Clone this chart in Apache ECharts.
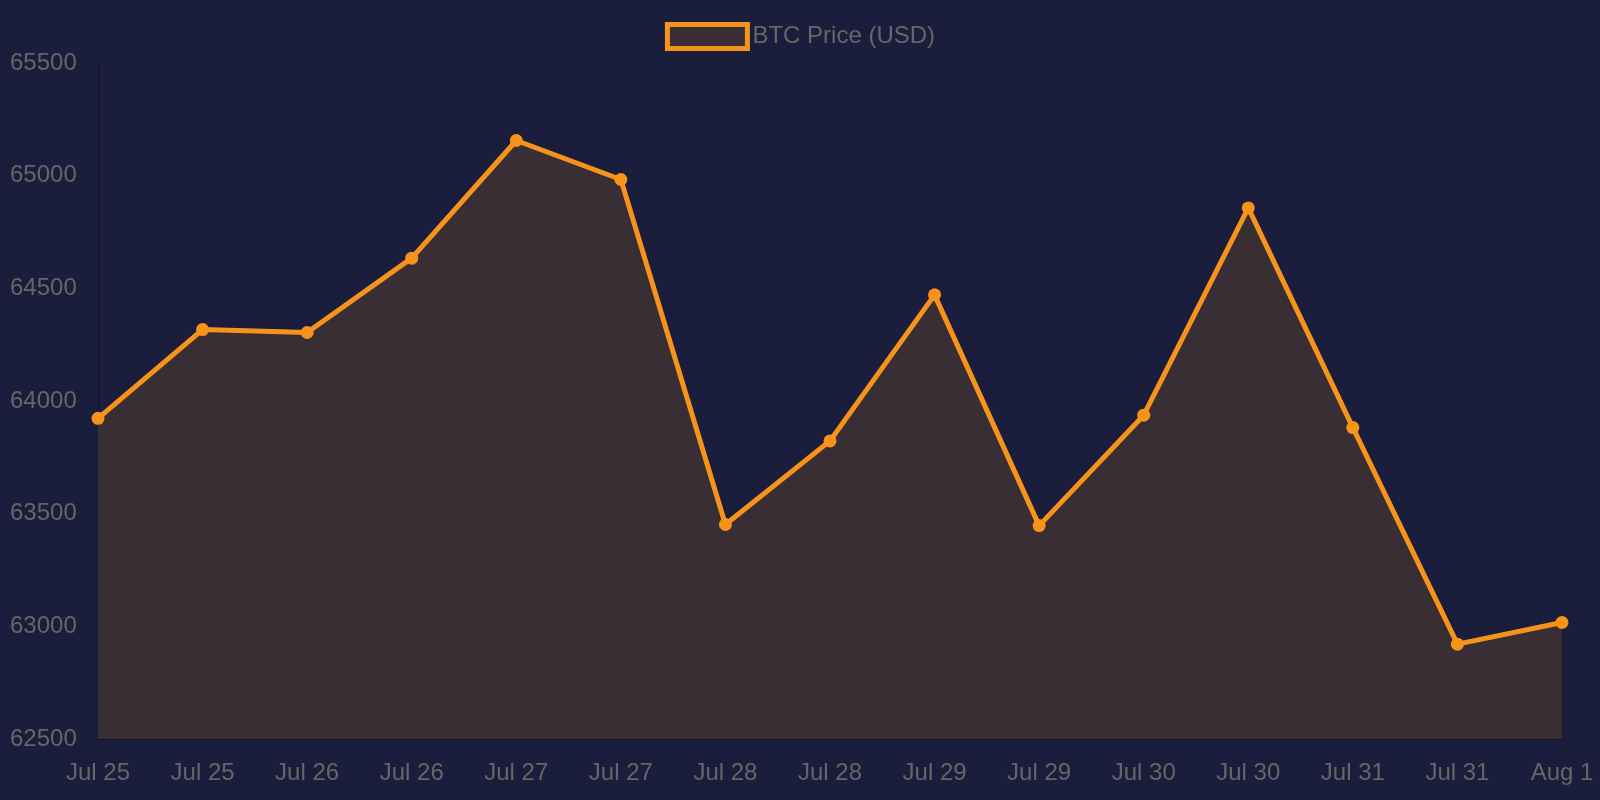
<!DOCTYPE html>
<html><head><meta charset="utf-8">
<script src="https://cdn.jsdelivr.net/npm/echarts@6/dist/echarts.min.js"></script>
<style>html,body{margin:0;background:#1a1e3c}#c{width:1600px;height:800px}</style>
</head><body><div id="c"></div>
<script>
const categories=["Jul 25","Jul 25","Jul 26","Jul 26","Jul 27","Jul 27","Jul 28","Jul 28","Jul 29","Jul 29","Jul 30","Jul 30","Jul 31","Jul 31","Aug 1"];
const prices=[63923,64317,64304,64634,65156,64983,63452,63823,64471,63447,63937,64857,63882,62921,63017];
const chart=echarts.init(document.getElementById('c'));
chart.setOption({
 backgroundColor:'#1a1e3c',
 textStyle:{fontFamily:'Liberation Sans, Arial, sans-serif'},
 legend:{top:17,left:'center',itemWidth:80,itemHeight:24,itemGap:12,icon:'rect',
   textStyle:{color:'#666',fontSize:24},
   data:[{name:'BTC Price (USD)',itemStyle:{color:'#3a2e35',borderColor:'#f7931a',borderWidth:5}}]},
 grid:{left:98,right:38,top:63,bottom:61},
 xAxis:{type:'category',boundaryGap:false,data:categories,
   axisLine:{lineStyle:{color:'rgba(0,0,0,0.3)'}},axisTick:{show:false},
   splitLine:{show:true,lineStyle:{color:'rgba(0,0,0,0.12)'}},
   axisLabel:{color:'#666',fontSize:24,margin:22,interval:0}},
 yAxis:{type:'value',min:62500,max:65500,interval:500,
   axisLine:{show:true,lineStyle:{color:'rgba(0,0,0,0.3)'}},
   splitLine:{lineStyle:{color:'rgba(0,0,0,0.12)'}},
   axisLabel:{color:'#666',fontSize:24,align:'left',margin:88,formatter:v=>String(v)}},
 series:[{name:'BTC Price (USD)',type:'line',data:prices,symbol:'circle',symbolSize:13,
   lineStyle:{color:'#f7931a',width:5},itemStyle:{color:'#f7931a'},
   areaStyle:{color:'#3a2e35',opacity:1}}]
});
</script></body></html>
